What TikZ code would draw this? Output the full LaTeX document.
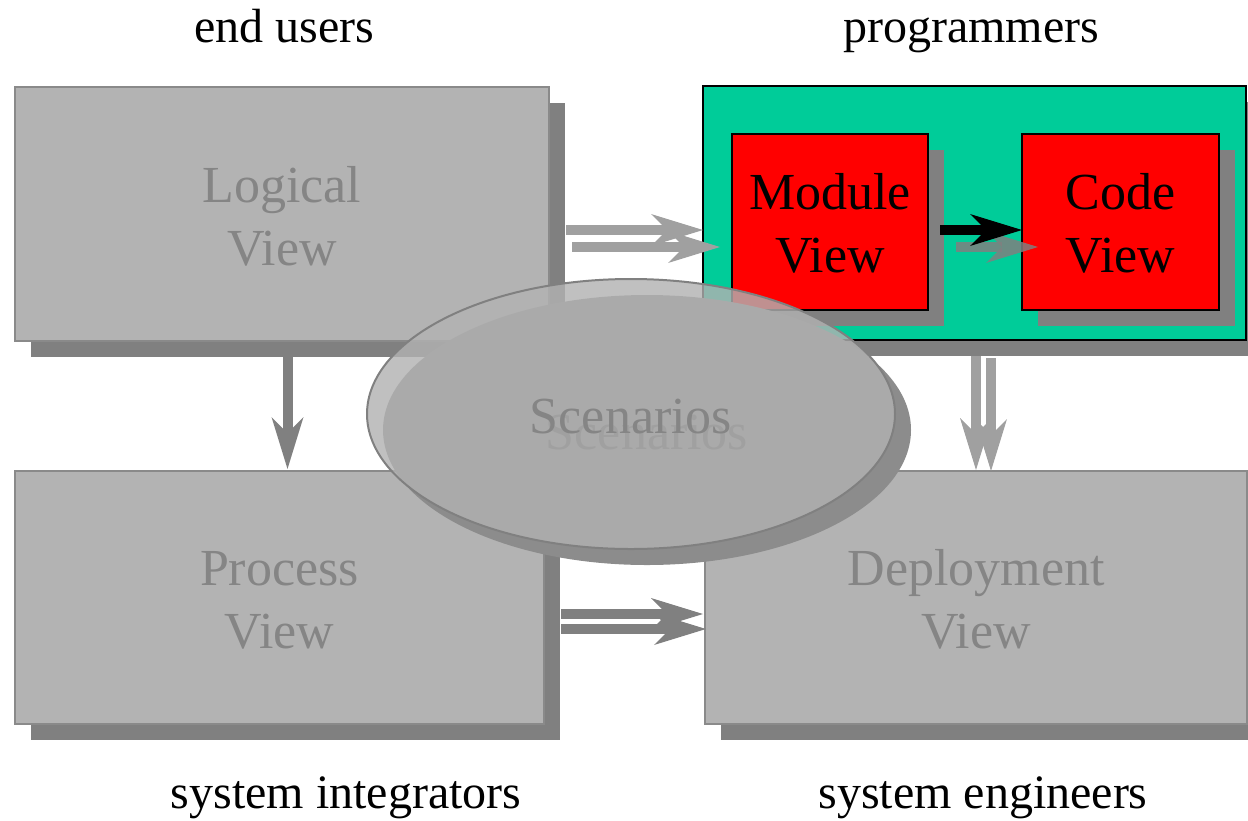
\documentclass[tikz,border=0pt]{standalone}
\usepackage{fontspec}
\setmainfont{Liberation Serif}
\usetikzlibrary{arrows.meta,shapes.geometric,shadows}

\definecolor{boxgray}{RGB}{179,179,179}
\definecolor{edgegray}{RGB}{138,138,138}
\definecolor{shadegray}{RGB}{128,128,128}
\definecolor{textgray}{RGB}{133,133,133}
\definecolor{arrowlight}{RGB}{160,160,160}
\definecolor{progreen}{RGB}{0,204,153}
\definecolor{ellfill}{RGB}{178,178,178}
\definecolor{ellshade}{RGB}{140,140,140}
\definecolor{echogray}{RGB}{160,160,160}

\begin{document}
\begin{tikzpicture}[x=0.5pt,y=-0.5pt,
  every node/.style={inner sep=0pt, outer sep=0pt},
  boxshadow/.style={drop shadow={shadow xshift=8pt, shadow yshift=-8pt, opacity=1, fill=shadegray}},
  viewbox/.style={boxshadow, draw=edgegray, line width=0.8pt, fill=boxgray},
  progbox/.style={boxshadow, draw=black, line width=1.2pt, fill=progreen},
  modbox/.style={boxshadow, draw=black, line width=1.2pt, fill=red,
    minimum width=98pt, minimum height=88pt},
  boxtext/.style={font=\fontsize{26}{31.5}\selectfont, align=center, anchor=base},
  rolelabel/.style={font=\fontsize{24}{28}\selectfont, anchor=base, text=black},
  scentext/.style={font=\fontsize{26}{31.5}\selectfont, anchor=base},
  fat/.style={line width=5pt, -{Stealth[length=26pt,width=16pt,inset=8pt,line width=0pt]}},
]
\useasboundingbox (0,0) rectangle (1248,820);
\clip (0,0) rectangle (1248,820);

% the four views
\node[viewbox, minimum width=267pt, minimum height=127pt] (logical) at (282,214) {};
\node[viewbox, minimum width=264.5pt, minimum height=126.5pt] (process) at (279.5,597.5) {};
\node[viewbox, minimum width=271pt, minimum height=126.5pt] (deploy) at (976,597.5) {};
\node[boxtext, text=textgray] (logicaltext) at ([yshift=-25.5pt]logical.center) {Logical\\View};
\node[boxtext, text=textgray] (processtext) at ([yshift=-25.5pt]process.center) {Process\\View};
\node[boxtext, text=textgray] (deploytext) at ([yshift=-25.5pt]deploy.center) {Deployment\\View};

% development view with its two parts
\node[progbox, minimum width=271.5pt, minimum height=127pt] (progs) at (974.5,213) {};
\node[modbox] (module) at (830,222) {};
\node[modbox, minimum width=98.5pt] (code) at (1120.5,222) {};
\node[boxtext, text=black] (moduletext) at ([yshift=-25pt]module.center) {Module\\View};
\node[boxtext, text=black] (codetext) at ([yshift=-25pt]code.center) {Code\\View};

% connectors
\draw[fat, arrowlight] ([shift={(17,16)}]logical.east) -- ([shift={(0,17)}]progs.west);
\draw[fat, arrowlight] ([shift={(23,33)}]logical.east) -- ([shift={(17,34)}]progs.west);

\draw[fat, shadegray, opacity=0.85] ([shift={(28,25)}]module.east) -- ([shift={(16,25)}]code.west);
\draw[fat, black] ([shift={(12,8)}]module.east) -- ([shift={(0,8)}]code.west);

\draw[fat, arrowlight] ([shift={(1.5,16)}]progs.south) -- ([shift={(0,-1)}]deploy.north);
\draw[fat, arrowlight] ([shift={(16.5,18)}]progs.south) -- ([shift={(15,0)}]deploy.north);

\draw[fat, shadegray] ([shift={(17,16.5)}]process.east) -- ([shift={(-2,16.5)}]deploy.west);
\draw[fat, shadegray] ([shift={(17,31.5)}]process.east) -- ([shift={(1,31.5)}]deploy.west);

\draw[fat, shadegray] ([shift={(5.5,16)}]logical.south) -- ([shift={(8,-2)}]process.north);

% scenarios in the middle
\node[ellipse, draw=shadegray, line width=1pt, fill=ellfill, fill opacity=0.81,
  minimum width=264pt, minimum height=135pt,
  drop shadow={shadow xshift=8pt, shadow yshift=-8pt, opacity=1, fill=ellshade}]
  (scen) at (631,414) {};
\node[scentext, text=echogray] (scenecho) at (647,449) {Scenarios};
\node[scentext, text=textgray] (scenlabel) at (631,433) {Scenarios};

% stakeholders
\node[rolelabel] (endusers) at (284,42) {end users};
\node[rolelabel] (programmers) at (971,42) {programmers};
\node[rolelabel] (integrators) at (346,808) {system integrators};
\node[rolelabel] (engineers) at (983,808) {system engineers};
\end{tikzpicture}
\end{document}
